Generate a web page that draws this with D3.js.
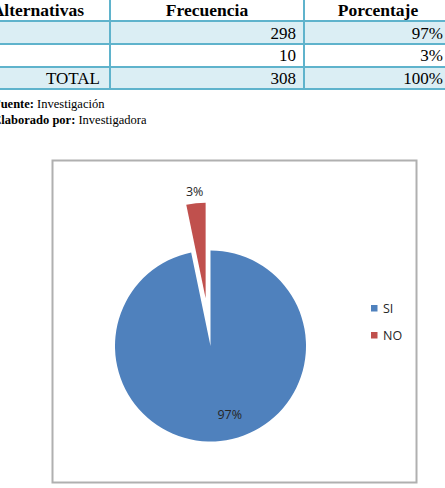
<!DOCTYPE html>
<html>
<head>
<meta charset="utf-8">
<script src="https://cdn.jsdelivr.net/npm/d3@7"></script>
<style>
  body { margin: 0; background: white; }
</style>
</head>
<body>
<div id="chart"></div>
<script>
var width = 445;
var height = 488;

var headers = ["Alternativas", "Frecuencia", "Porcentaje"];
var categories = ["SI", "NO"];
var frecuencia = [298, 10];
var porcentaje = ["97%", "3%"];
var totalLabel = "TOTAL";
var totalFrecuencia = 308;
var totalPorcentaje = "100%";
var colors = ["#4f81bd", "#c0504d"];

var svg = d3.select("#chart")
    .append("svg")
    .attr("width", width)
    .attr("height", height)

svg.append("rect")
    .attr("width", width)
    .attr("height", height)
    .attr("fill", "white")

// ---- table ----
var colEdges = [-40, 110, 304, 452];
var rowEdges = [-4, 21, 44, 67, 89];
var tableFont = "'Liberation Serif', 'Times New Roman', serif";

var tableRows = [headers].concat(
    frecuencia.map(function(d, i) { return ["", String(d), porcentaje[i]]; }),
    [[totalLabel, String(totalFrecuencia), totalPorcentaje]]
);

var table = svg.append("g").attr("class", "table");

table.selectAll(".band")
    .data(tableRows)
    .enter().append("rect")
    .attr("class", "band")
    .attr("x", colEdges[0])
    .attr("y", function(d, i) { return rowEdges[i]; })
    .attr("width", colEdges[3] - colEdges[0])
    .attr("height", function(d, i) { return rowEdges[i + 1] - rowEdges[i]; })
    .attr("fill", function(d, i) { return i % 2 === 1 ? "#dbeef4" : "white"; })

table.selectAll(".hline")
    .data(rowEdges.slice(1))
    .enter().append("line")
    .attr("class", "hline")
    .attr("x1", colEdges[0]).attr("x2", colEdges[3])
    .attr("y1", function(d) { return d; }).attr("y2", function(d) { return d; })
    .style("stroke", "#5fb3cc")
    .style("stroke-width", "2px")

table.selectAll(".vline")
    .data(colEdges.slice(1, 3))
    .enter().append("line")
    .attr("class", "vline")
    .attr("x1", function(d) { return d; }).attr("x2", function(d) { return d; })
    .attr("y1", rowEdges[0]).attr("y2", rowEdges[4])
    .style("stroke", "#5fb3cc")
    .style("stroke-width", "2px")

var baselines = [16, 39, 61, 84];

// header row, centered
table.selectAll(".head")
    .data(headers)
    .enter().append("text")
    .attr("class", "head")
    .attr("x", function(d, i) { return i === 0 ? 84 : (colEdges[i] + colEdges[i + 1]) / 2; })
    .attr("y", baselines[0])
    .attr("text-anchor", function(d, i) { return i === 0 ? "end" : "middle"; })
    .style("font-family", tableFont)
    .style("font-weight", "bold")
    .style("font-size", "17.5px")
    .text(function(d) { return d; })

// body rows, right aligned
var rightEdges = [100, 296, 443];
tableRows.slice(1).forEach(function(row, r) {
    table.selectAll(".cell" + r)
        .data(row)
        .enter().append("text")
        .attr("x", function(d, i) { return rightEdges[i]; })
        .attr("y", baselines[r + 1])
        .attr("text-anchor", "end")
        .style("font-family", tableFont)
        .style("font-size", "17px")
        .text(function(d) { return d; })
})

// footnotes
var notes = [["Fuente: ", "Investigación"], ["Elaborado por: ", "Investigadora"]];
notes.forEach(function(n, i) {
    var t = svg.append("text")
        .attr("x", -7)
        .attr("y", 108 + i * 16)
        .style("font-family", tableFont)
        .style("font-size", "12.5px")
    t.append("tspan").style("font-weight", "bold").text(n[0])
    t.append("tspan").text(n[1])
})

// ---- chart area ----
svg.append("rect")
    .attr("x", 52.5)
    .attr("y", 160.5)
    .attr("width", 364)
    .attr("height", 322)
    .attr("fill", "white")
    .style("stroke", "#b0b0b0")
    .style("stroke-width", "2px")

var cx = 210.5, cy = 346, radius = 95.5, explode = 48;
var total = d3.sum(frecuencia);

var pie = d3.pie().sort(null).value(function(d) { return d; });
var arcs = pie(frecuencia);
var arc = d3.arc().innerRadius(0).outerRadius(radius);

var offset = function(d, i) {
    if (i !== 1) return [0, 0];
    var a = (d.startAngle + d.endAngle) / 2;
    return [Math.sin(a) * explode, -Math.cos(a) * explode];
};

var pieG = svg.append("g").attr("transform", "translate(" + cx + "," + cy + ")");

pieG.selectAll(".slice")
    .data(arcs)
    .enter().append("path")
    .attr("class", "slice")
    .attr("d", arc)
    .attr("fill", function(d, i) { return colors[i]; })
    .attr("transform", function(d, i) { var o = offset(d, i); return "translate(" + o[0] + "," + o[1] + ")"; })

var labelFont = "'Open Sans', 'Noto Sans', sans-serif";

pieG.selectAll(".plabel")
    .data(arcs)
    .enter().append("text")
    .attr("class", "plabel")
    .attr("transform", function(d, i) {
        var o = offset(d, i);
        var r = i === 1 ? radius + 12 : radius * 0.75;
        var a = (d.startAngle + d.endAngle) / 2 - (i === 0 ? 0.17 : 0);
        return "translate(" + (o[0] + Math.sin(a) * r) + "," + (o[1] - Math.cos(a) * r) + ")";
    })
    .attr("dy", "0.35em")
    .attr("text-anchor", "middle")
    .style("font-family", labelFont)
    .style("font-size", "12.5px")
    .style("fill", "#262626")
    .text(function(d) { return Math.round(d.value / total * 100) + "%"; })

// legend
var legend = svg.append("g").attr("transform", "translate(371, 305)");
var legendY = d3.scalePoint().domain(categories).range([0, 27]);

legend.selectAll(".lkey")
    .data(categories)
    .enter().append("rect")
    .attr("class", "lkey")
    .attr("x", 0)
    .attr("y", function(d) { return legendY(d); })
    .attr("width", 6.5)
    .attr("height", 6.5)
    .attr("fill", function(d, i) { return colors[i]; })

legend.selectAll(".ltext")
    .data(categories)
    .enter().append("text")
    .attr("class", "ltext")
    .attr("x", 12)
    .attr("y", function(d) { return legendY(d) + 3.5; })
    .attr("dy", "0.35em")
    .style("font-family", labelFont)
    .style("font-size", "12.5px")
    .style("fill", "#262626")
    .text(function(d) { return d; })
</script>
</body>
</html>
